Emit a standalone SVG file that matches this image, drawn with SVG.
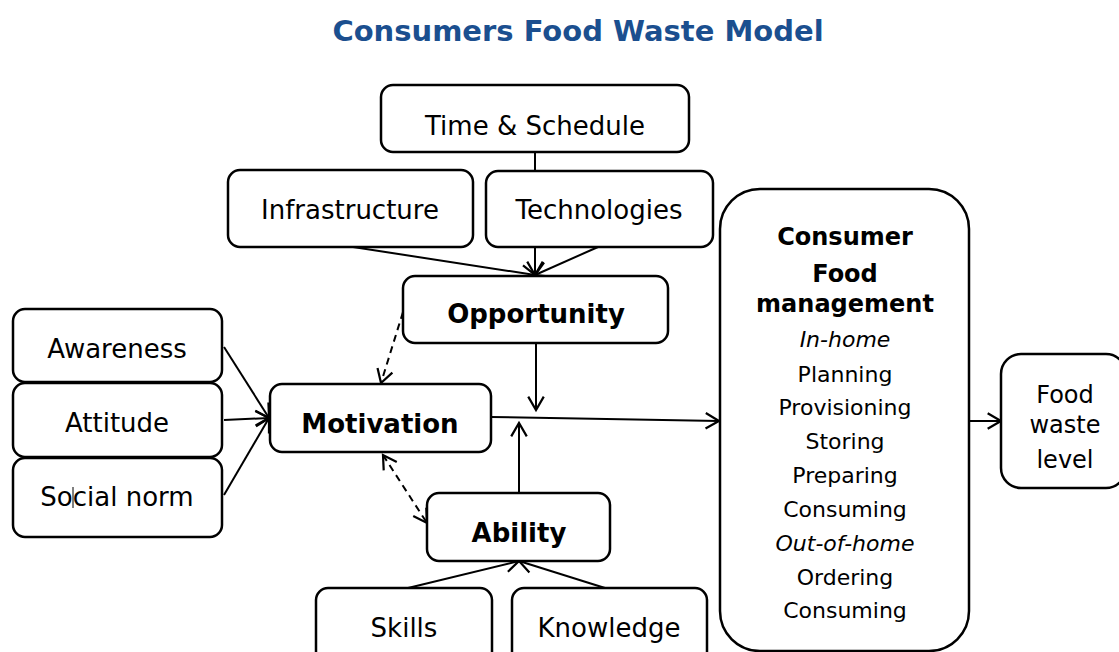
<svg xmlns="http://www.w3.org/2000/svg" width="1119" height="652" viewBox="0 0 1119 652">
<style>
.box{fill:#fff;stroke:#000;stroke-width:2.5}
.t{font-family:"DejaVu Sans",Verdana,sans-serif;font-size:26px;fill:#000;text-anchor:middle}
.b{font-weight:bold}
.m{font-family:"DejaVu Sans",Verdana,sans-serif;font-size:22px;fill:#000;text-anchor:middle}
.mb{font-size:24px;font-weight:bold}
.i{font-style:italic}
.fw{font-size:24px}
.c{fill:none;stroke:#000;stroke-width:2}
.d{stroke-dasharray:7,5}
</style>
<defs>
<marker id="a" markerUnits="userSpaceOnUse" markerWidth="20" markerHeight="20" viewBox="-13 -9 15 18" refX="0" refY="0" orient="auto-start-reverse">
<path d="M-12,-7 L0,0 L-12,7" fill="none" stroke="#000" stroke-width="2"/>
</marker>
</defs>
<rect width="1119" height="652" fill="#fff"/>
<text x="578" y="41" font-family="DejaVu Sans,Verdana,sans-serif" font-size="29" font-weight="bold" fill="#1B4F8F" text-anchor="middle">Consumers Food Waste Model</text>

<g id="connectors">
<line class="c" x1="535" y1="153" x2="535" y2="171"/>
<line class="c" x1="353" y1="247" x2="535" y2="275" marker-end="url(#a)"/>
<line class="c" x1="535" y1="247" x2="535" y2="275" marker-end="url(#a)"/>
<line class="c" x1="598" y1="247" x2="535" y2="275" marker-end="url(#a)"/>
<line class="c" x1="224" y1="347" x2="269" y2="418" marker-end="url(#a)"/>
<line class="c" x1="224" y1="420" x2="269" y2="418" marker-end="url(#a)"/>
<line class="c" x1="224" y1="495" x2="269" y2="418" marker-end="url(#a)"/>
<line class="c d" x1="403" y1="312" x2="381" y2="383" marker-end="url(#a)"/>
<line class="c d" x1="383" y1="455" x2="427" y2="523" marker-start="url(#a)" marker-end="url(#a)"/>
<line class="c" x1="536" y1="343" x2="536" y2="410" marker-end="url(#a)"/>
<line class="c" x1="491" y1="417" x2="719" y2="421" marker-end="url(#a)"/>
<line class="c" x1="519" y1="493" x2="519" y2="423" marker-end="url(#a)"/>
<line class="c" x1="408" y1="588" x2="519" y2="561" marker-end="url(#a)"/>
<line class="c" x1="605" y1="588" x2="519" y2="561" marker-end="url(#a)"/>
<line class="c" x1="969" y1="421" x2="1001" y2="421" marker-end="url(#a)"/>
</g>

<g id="time-schedule"><rect class="box" x="381" y="85" width="308" height="67" rx="12"/><text class="t" x="535" y="135">Time &amp; Schedule</text></g>
<g id="infrastructure"><rect class="box" x="228" y="170" width="245" height="77" rx="12"/><text class="t" x="350" y="219">Infrastructure</text></g>
<g id="technologies"><rect class="box" x="486" y="171" width="227" height="76" rx="12"/><text class="t" x="599" y="219">Technologies</text></g>
<g id="opportunity"><rect class="box" x="403" y="276" width="265" height="67" rx="12"/><text class="t b" x="536" y="323">Opportunity</text></g>
<g id="awareness"><rect class="box" x="13" y="309" width="209" height="73" rx="12"/><text class="t" x="117" y="358">Awareness</text></g>
<g id="attitude"><rect class="box" x="13" y="383" width="209" height="74" rx="12"/><text class="t" x="117" y="432">Attitude</text></g>
<g id="social-norm"><rect class="box" x="13" y="458" width="209" height="79" rx="12"/><text class="t" x="117" y="506">Social norm</text><line x1="73" y1="487" x2="73" y2="508" stroke="#000" stroke-width="1"/></g>
<g id="motivation"><rect class="box" x="270" y="384" width="221" height="68" rx="12"/><text class="t b" x="380" y="433">Motivation</text></g>
<g id="ability"><rect class="box" x="427" y="493" width="183" height="68" rx="12"/><text class="t b" x="519" y="542">Ability</text></g>
<g id="skills"><rect class="box" x="316" y="588" width="176" height="80" rx="12"/><text class="t" x="404" y="637">Skills</text></g>
<g id="knowledge"><rect class="box" x="512" y="588" width="195" height="80" rx="12"/><text class="t" x="609" y="637">Knowledge</text></g>
<g id="consumer-food-management"><rect class="box" x="720" y="189" width="249" height="462" rx="40"/>
<text class="m mb" x="845" y="245">Consumer</text>
<text class="m mb" x="845" y="282">Food</text>
<text class="m mb" x="845" y="312">management</text>
<text class="m i" x="845" y="347">In-home</text>
<text class="m" x="845" y="382">Planning</text>
<text class="m" x="845" y="415">Provisioning</text>
<text class="m" x="845" y="449">Storing</text>
<text class="m" x="845" y="483">Preparing</text>
<text class="m" x="845" y="517">Consuming</text>
<text class="m i" x="845" y="551">Out-of-home</text>
<text class="m" x="845" y="585">Ordering</text>
<text class="m" x="845" y="618">Consuming</text>
</g>
<g id="food-waste-level"><rect class="box" x="1001" y="354" width="125" height="134" rx="20"/>
<text class="m fw" x="1065" y="403">Food</text>
<text class="m fw" x="1065" y="433">waste</text>
<text class="m fw" x="1065" y="468">level</text>
</g>
</svg>
